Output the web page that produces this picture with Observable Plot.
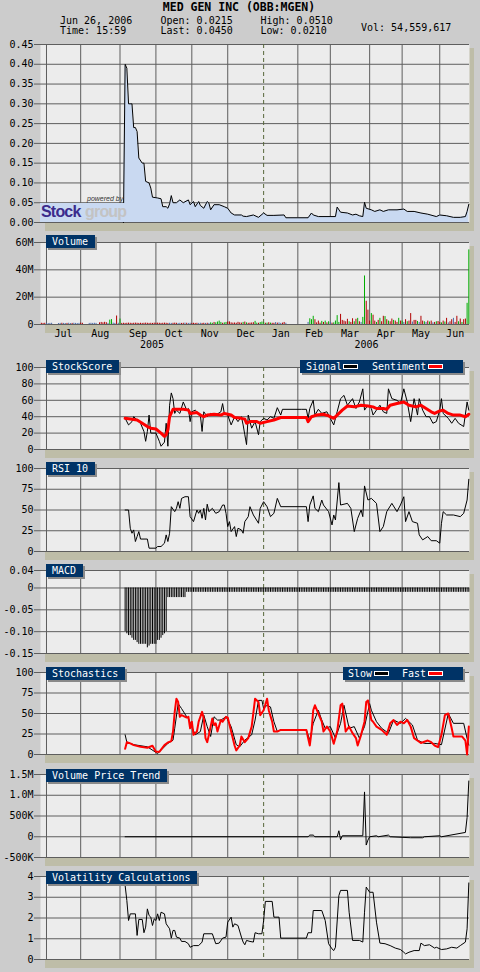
<!DOCTYPE html>
<html><head><meta charset="utf-8">
<script src="https://cdn.jsdelivr.net/npm/d3@7"></script>
<script src="https://cdn.jsdelivr.net/npm/@observablehq/plot@0.6"></script>
<style>
body{margin:0;background:#cccccc;}
#root{position:relative;width:480px;height:972px;overflow:hidden;font-family:"DejaVu Sans Mono",monospace;}
.shadow{position:absolute;background:#bebda8;}
.lg{position:absolute;background:#003366;color:#fff;font-size:10px;line-height:13px;height:13px;padding:0 7px 0 6px;box-shadow:2px 2px 0 #8a8a8a;white-space:nowrap;font-family:"DejaVu Sans Mono",monospace;}
.sw{position:absolute;top:4px;width:13px;height:3px;border:1px solid #fff;}
svg{position:absolute;left:0;}
</style></head>
<body><div id="root"></div>
<script>
// ---------- header values ----------
const title = "MED GEN INC (OBB:MGEN)";
const headerRow1 = ["Jun 26, 2006", "Open: 0.0215", "High: 0.0510"];
const headerRow2 = ["Time: 15:59", "Last: 0.0450", "Low: 0.0210"];
const headerVol = "Vol: 54,559,617";

// ---------- time axis (trading-day index, 0 = Jul 1 2005) ----------
const monthLabels = ["Jul","Aug","Sep","Oct","Nov","Dec","Jan","Feb","Mar","Apr","May","Jun"];
const tradingDaysPerMonth = [20,23,21,21,21,21,20,19,23,19,22,18];
const yearLabels = ["2005","2006"];
const xDomain = [-3.5, 247.4];

// ---------- price [day, value] ----------
const price = [[45,0.0],[46,0.40],[47,0.39],[48,0.30],[50,0.30],[51,0.24],[52,0.24],[53,0.23],[54,0.163],[56,0.15],[57,0.15],[58,0.104],[60,0.10],[61,0.087],[62,0.064],[65,0.062],[67,0.06],[68,0.04],[70,0.04],[71,0.036],[72,0.047],[73,0.068],[74,0.05],[76,0.05],[78,0.057],[80,0.05],[83,0.057],[84,0.045],[86,0.053],[87,0.04],[89,0.053],[90,0.043],[92,0.036],[94,0.053],[95,0.049],[96,0.032],[98,0.045],[101,0.045],[104,0.04],[106,0.036],[108,0.024],[110,0.019],[114,0.019],[115,0.016],[117,0.015],[121,0.019],[124,0.013],[127,0.024],[129,0.018],[133,0.018],[139,0.019],[140,0.012],[153,0.012],[155,0.024],[156,0.019],[159,0.015],[169,0.015],[170,0.039],[172,0.026],[176,0.024],[179,0.019],[181,0.021],[183,0.017],[185,0.015],[186,0.051],[187,0.036],[190,0.032],[192,0.028],[195,0.032],[197,0.028],[200,0.032],[205,0.032],[209,0.034],[211,0.028],[215,0.028],[219,0.024],[223,0.021],[228,0.015],[230,0.019],[234,0.017],[238,0.013],[242,0.013],[245,0.015],[246,0.028],[247,0.046]];
const priceTicks = [0,0.05,0.10,0.15,0.20,0.25,0.30,0.35,0.40,0.45];

// ---------- volume (millions), one per trading day from day -3 ----------
const volumeFirstDay = -3;
const volumeM = [].concat(
  [0.9,0.8,0.9],
  [0.8,0.7,0.8,0.9,0,0,0,0.7,0.8,0.9,0.8,0.7,0.8,0.9,0.7,0.8,0.9,0.8,0.7,0.8],
  [1.0,0.9,0,0,0,0.8,0.9,0.8,0.9,0.8,0,1.2,1.5,1.2,1.6,1.3,0.8,3.2,3.6,1.0,0.8,6.2,0.9],
  [4.0,0.8,0.9,0.8,0.9,1.0,0.9,0.8,0.9,1.0,0.9,0.8,0.9,0.8,0.9,1.0,0.9,0.8,0.9,0.8,1.0],
  [0.9,1.0,0.9,0.8,0.9,1.0,0.9,0.8,0.9,0.8,0.9,1.0,0.9,0.8,0.9,0.8,0.9,1.0,0.9,0.8,0.9],
  [0.8,0.9,0.8,0.9,0.8,0.9,0.8,0.9,0.8,0.9,0.8,1.2,0.9,1.5,1.2,1.8,2.5,1.5,0.9,1.2,1.5],
  [1.8,1.9,1.2,1.0,1.1,0.9,1.6,1.2,1.0,1.5,1.8,1.2,0.9,1.0,1.1,1.3,2.3,1.0,0.9,1.4,1.8],
  [1.2,0.9,1.0,1.3,1.0,0.9,0.9,1.4,1.0,1.2,0.8,1.0,1.5,0.9,0,0,0,0,0,0],
  [0,0,0,0,0,0,1.5,4.2,3.5,6.0,3.5,1.2,2.5,1.0,2.3,1.5,2.5,1.2,2.0],
  [1.5,1.0,1.2,2.5,6.5,1.5,7.4,3.0,2.5,2.0,3.8,2.0,1.5,4.2,2.0,3.8,4.5,2.0,1.5,5.2,35.5,17.0,10.5],
  [2.5,8.0,6.8,2.5,1.5,3.0,4.5,2.0,6.0,5.8,3.5,2.5,2.0,4.0,3.0,2.5,1.5,4.5,2.5],
  [2.5,1.5,3.5,2.0,2.5,8.0,1.8,3.0,3.0,2.2,1.5,6.0,2.5,2.0,1.5,2.5,1.8,2.5,1.2,1.5,2.0,2.2],
  [1.5,1.2,2.5,1.8,4.5,1.2,2.0,3.5,4.5,1.5,6.0,2.0,4.0,1.5,3.5,4.0,15.5,54.56]
);
// g = up, r = down, b = unchanged
const volumeDir = "rrr" + "bbbbbbbbbrbbrbbrbbbb" + "rrrrrbbbbbbrrrrrbggbbrb" + "grrrrrrrrrrrrrrrrrrrr" +
  "rrrrrrrrbbrrrbbrrbrbb" + "rrrrbbrrbrbggrggggrgg" + "rrrrrrrrrgrgrrrrggrgg" + "grgrgrrbrbbrrbbbbbbb" +
  "bbbbbbbgggrrrrgrgrg" + "brggggrrrrrgrrgrgrbggrr" + "rgrrgrgrrgrgrrgrrgr" + "gbrgrrbrrgbrrgbrgrbrgr" + "rgrgrbrrbrrgrgrrgg";
const volumeTicks = [0,20,40,60];

// ---------- StockScore ----------
const sentiment = [[46,38],[53,36],[59,28],[61,26],[64,25],[67,20],[69,16],[70,18],[71,24],[72,40],[74,49],[76,49],[80,49],[83,48],[84,44],[88,45],[90,42],[92,40],[94,42],[98,43],[102,42],[104,44],[108,42],[110,39],[114,38],[116,37],[117,32],[119,34],[123,34],[125,32],[129,34],[133,36],[137,39],[141,39],[149,39],[152,39],[153,34],[155,40],[158,42],[162,43],[165,41],[168,38],[170,42],[173,48],[176,53],[180,52],[184,54],[188,53],[191,52],[193,50],[197,50],[199,49],[201,54],[205,56],[209,58],[212,54],[216,52],[219,54],[222,50],[225,46],[227,44],[230,47],[232,48],[235,44],[238,42],[242,42],[245,40],[247,43]];
const signal = [[46,38],[48,30],[50,34],[51,40],[53,36],[55,32],[57,22],[58,10],[59,22],[60,42],[61,20],[64,20],[66,10],[67,4],[69,9],[70,32],[71,4],[72,54],[73,69],[74,62],[75,44],[76,48],[78,44],[80,58],[82,48],[83,50],[84,34],[85,46],[87,48],[90,42],[91,22],[92,46],[94,40],[96,44],[99,42],[102,46],[103,56],[104,44],[106,42],[108,30],[110,40],[112,34],[114,40],[115,30],[116,18],[117,6],[118,42],[120,26],[122,34],[124,18],[125,34],[127,38],[129,36],[131,40],[133,38],[135,51],[137,42],[138,49],[149,49],[152,49],[153,38],[154,50],[156,60],[157,42],[159,49],[161,44],[164,46],[166,38],[168,30],[170,46],[172,62],[174,66],[176,54],[179,62],[181,50],[183,58],[185,74],[186,48],[188,54],[190,50],[191,42],[193,48],[195,54],[197,46],[199,44],[200,74],[202,62],[205,60],[207,56],[209,74],[211,58],[213,34],[215,62],[217,42],[218,62],[220,48],[222,40],[224,40],[226,32],[228,34],[230,48],[231,62],[232,44],[235,38],[237,32],[239,38],[241,32],[244,28],[246,58],[247,48]];
const scoreTicks = [0,20,40,60,80,100];

// ---------- RSI 10 ----------
const rsi = [[46,50],[48,50],[49,28],[50,22],[51,26],[52,12],[53,18],[54,24],[55,15],[59,15],[60,4],[64,4],[65,6],[67,6],[69,10],[70,20],[71,12],[72,22],[73,54],[75,48],[76,52],[77,60],[78,52],[79,64],[81,66],[83,66],[84,42],[86,36],[88,50],[89,46],[90,50],[91,40],[92,52],[93,38],[94,57],[95,48],[97,52],[99,46],[101,48],[103,56],[104,56],[105,46],[106,30],[107,36],[108,24],[110,30],[111,18],[112,28],[114,26],[115,22],[116,36],[118,42],[119,54],[121,44],[124,34],[125,52],[127,60],[129,54],[131,42],[133,46],[135,64],[137,54],[152,54],[153,36],[154,56],[156,67],[157,52],[159,48],[161,62],[162,56],[165,48],[167,32],[168,44],[169,38],[171,83],[172,56],[176,58],[178,52],[180,24],[182,40],[184,50],[185,42],[186,79],[188,62],[190,64],[193,58],[195,24],[197,30],[199,48],[202,58],[205,48],[207,56],[209,66],[210,36],[212,48],[214,36],[217,34],[218,20],[220,14],[223,18],[225,13],[228,13],[230,10],[231,34],[232,48],[234,44],[238,44],[242,42],[244,46],[246,62],[247,87]];
const rsiTicks = [0,25,50,75,100];

// ---------- MACD histogram, one per day from day 46 ----------
const macdFirstDay = 46;
const macd = [
 -0.100,-0.105,-0.109,-0.109,-0.115,-0.120,-0.120,-0.125,-0.129,-0.129,-0.129,-0.129,-0.129,-0.137,-0.133,-0.129,-0.129,-0.129,-0.129,-0.120,-0.120,-0.115,-0.109,-0.105,-0.100,
 -0.022,-0.022,-0.022,-0.022,-0.022,-0.022,-0.022,-0.022,-0.022,-0.022,-0.022,
 -0.01,-0.01,-0.01,-0.01,-0.01,-0.01,-0.01,-0.01,-0.01,-0.01,-0.01,-0.01,-0.01,-0.01,-0.01,-0.01,-0.01,-0.01,-0.01,-0.01,
 -0.01,-0.01,-0.01,-0.01,-0.01,-0.01,-0.01,-0.01,-0.01,-0.01,-0.01,-0.01,-0.01,-0.01,-0.01,-0.01,-0.01,-0.01,-0.01,-0.01,
 -0.01,-0.01,-0.01,-0.01,-0.01,-0.01,-0.01,-0.01,-0.01,-0.01,-0.01,-0.01,-0.01,-0.01,-0.01,-0.01,-0.01,-0.01,-0.01,-0.01,
 -0.01,-0.01,-0.01,-0.01,-0.01,-0.01,-0.01,-0.01,-0.01,-0.01,-0.01,-0.01,-0.01,-0.01,-0.01,-0.01,-0.01,-0.01,-0.01,-0.01,
 -0.01,-0.01,-0.01,-0.01,-0.01,-0.01,-0.01,-0.01,-0.01,-0.01,-0.01,-0.01,-0.01,-0.01,-0.01,-0.01,-0.01,-0.01,-0.01,-0.01,
 -0.01,-0.01,-0.01,-0.01,-0.01,-0.01,-0.01,-0.01,-0.01,-0.01,-0.01,-0.01,-0.01,-0.01,-0.01,-0.01,-0.01,-0.01,-0.01,-0.01,
 -0.01,-0.01,-0.01,-0.01,-0.01,-0.01,-0.01,-0.01,-0.01,-0.01,-0.01,-0.01,-0.01,-0.01,-0.01,-0.01,-0.01,-0.01,-0.01,-0.01,
 -0.01,-0.01,-0.01,-0.01,-0.01,-0.01,-0.01,-0.01,-0.01,-0.01,-0.01,-0.01,-0.01,-0.01,-0.01,-0.01,-0.01,-0.01,-0.01,-0.01,
 -0.01,-0.01,-0.01,-0.01,-0.01,-0.01
];
const macdTicks = [-0.15,-0.10,-0.05,0,0.04];

// ---------- Stochastics ----------
const stochFast = [[46,7],[47,15],[49,13.5],[51,11.4],[55,9.4],[59,8.2],[62,10.6],[64,3.3],[66,3.3],[69,11.4],[71,14.7],[73,16.3],[74,28],[75,52],[76,68],[77,64],[78,46],[79,48],[82,45],[83,46],[84,32],[85,40],[86,24],[88,28],[89,40],[91,52],[92,44],[93,20],[94,15],[95,24],[97,44],[98,36],[99,38],[100,28],[102,42],[103,40],[105,46],[106,45],[108,28],[110,11],[111,5],[113,11],[114,22],[116,15],[118,20],[120,34],[122,68],[124,64],[125,48],[127,54],[129,68],[130,54],[132,40],[133,28],[135,28],[137,30],[152,30],[153,20],[154,11],[155,28],[156,54],[157,60],[159,50],[161,40],[162,28],[164,34],[166,28],[168,13],[170,28],[172,60],[173,62],[175,28],[177,34],[179,26],[181,20],[182,11],[184,24],[186,40],[187,64],[188,66],[190,42],[191,40],[193,34],[196,30],[199,24],[201,38],[203,42],[205,36],[207,40],[209,38],[211,42],[213,34],[215,20],[219,14],[223,17],[225,15],[227,11],[229,9],[231,24],[233,48],[235,50],[237,32],[238,22],[243,22],[245,17],[246,0],[247,34]];
const stochSlow = [[46,24],[47,15],[51,12],[59,9.4],[65,1.2],[71,13.5],[74,17.5],[75,32],[77,62],[79,56],[82,46],[83,44],[85,34],[87,24],[90,28],[92,48],[94,34],[96,22],[98,46],[100,42],[102,42],[105,46],[108,34],[111,12],[113,9.4],[116,17.5],[120,24],[122,42],[124,66],[126,66],[127,56],[129,60],[131,58],[133,40],[135,28],[137,30],[152,30],[154,17.5],[156,38],[159,54],[161,42],[163,32],[166,34],[169,20],[172,38],[174,60],[177,32],[180,34],[183,20],[186,34],[189,62],[190,54],[193,40],[196,32],[200,26],[203,42],[207,38],[210,44],[212,40],[214,36],[217,17.5],[221,13.5],[227,13.5],[231,12],[235,50],[238,38],[244,38],[246,19.6],[247,11.4]];
const stochTicks = [0,25,50,75,100];

// ---------- Volume Price Trend ----------
const vpt = [[46,0],[153,0],[154,40000],[156,40000],[157,0],[170,0],[171,144000],[172,-72000],[173,24000],[185,24000],[186,1080000],[187,-200000],[188,-80000],[189,0],[193,24000],[194,0],[200,40000],[201,0],[213,-24000],[220,-24000],[221,0],[230,24000],[231,0],[245,104000],[246,464000],[247,1344000]];
const vptTicks = [-500000,0,500000,1000000,1500000];

// ---------- Volatility ----------
const volatility = [[46,3.57],[47,2.84],[48,1.88],[49,2.2],[52,2.2],[53,1.16],[54,1.93],[56,1.93],[57,1.29],[58,1.56],[59,2.44],[60,2.12],[61,2.04],[62,1.64],[63,1.96],[64,1.88],[65,2.2],[66,1.88],[67,2.28],[69,2.2],[70,1.72],[72,1.48],[73,1.03],[74,1.4],[75,1.4],[76,1.08],[78,1.03],[79,0.87],[81,0.87],[83,0.76],[84,0.59],[86,0.67],[89,0.67],[91,0.84],[92,1.24],[97,1.24],[99,0.76],[101,0.79],[103,1.03],[105,1.08],[106,1.8],[108,2.04],[109,1.56],[110,1.72],[112,1.64],[114,1.08],[115,0.84],[116,0.71],[117,0.92],[119,0.87],[121,0.84],[122,1.29],[124,1.24],[126,1.24],[127,1.88],[128,2.8],[132,2.8],[133,2.04],[136,2.04],[137,1.03],[152,1.03],[153,1.29],[155,1.29],[156,2.36],[161,2.36],[163,1.88],[165,0.76],[167,0.51],[168,0.43],[169,0.59],[171,3.08],[172,3.33],[176,3.33],[177,2.28],[179,0.92],[183,0.92],[185,0.84],[186,2.28],[187,3.49],[189,3.24],[191,3.24],[193,1.8],[195,0.79],[198,0.76],[201,0.67],[204,0.55],[207,0.48],[209,0.35],[210,0.27],[212,0.35],[215,0.43],[218,0.43],[219,0.79],[221,0.67],[224,0.71],[227,0.55],[228,0.59],[231,0.48],[234,0.51],[237,0.59],[240,0.55],[242,0.67],[245,0.84],[246,1.48],[247,3.69]];
const volatilityTicks = [0,1,2,3,4];

// ================= drawing =================
const root = document.getElementById("root");
const monthStart = [0, ...d3.cumsum(tradingDaysPerMonth)].slice(0, 12);
const janIndex = monthLabels.indexOf("Jan");
const newYearDay = monthStart[janIndex];
const gridDays = monthStart.filter((d, i) => i !== janIndex);
const monthMid = monthStart.map((s, i) => ({label: monthLabels[i], day: s + tradingDaysPerMonth[i] / 2}));
const yearMid = [
  {label: yearLabels[0], day: (xDomain[0] + newYearDay) / 2},
  {label: yearLabels[1], day: (newYearDay + xDomain[1]) / 2}
];
const X = d => d[0], Y = d => d[1];

function panel({top, bottom, domain, ticks, format, marks, mb = 6}) {
  const mt = 6;
  const h = bottom - top + mt + mb;
  const sh = document.createElement("div");
  sh.className = "shadow";
  sh.style.left = "45px"; sh.style.top = (top + 4) + "px";
  sh.style.width = "429px"; sh.style.height = (bottom - top + 5) + "px";
  root.appendChild(sh);
  const svg = Plot.plot({
    width: 480, height: h,
    marginLeft: 40, marginRight: 11, marginTop: mt, marginBottom: mb,
    x: {domain: xDomain, axis: null},
    y: {domain: domain, axis: null},
    style: {background: "transparent", fontFamily: "DejaVu Sans Mono, monospace", fontSize: "10px", color: "black", overflow: "visible"},
    marks: [
      Plot.frame({fill: "#ececec", stroke: "none"}),
      Plot.ruleX(gridDays, {stroke: "#5e5e5e"}),
      Plot.ruleY(ticks, {stroke: "#5e5e5e"}),
      Plot.ruleX([newYearDay], {stroke: "#56663a", strokeDasharray: "4,3"}),
      ...marks,
      Plot.axisY(ticks, {tickSize: 6, tickPadding: 1, tickFormat: format, label: null, stroke: "#5e5e5e", fill: "black", fontSize: 10})
    ]
  });
  svg.style.top = (top - mt) + "px";
  root.appendChild(svg);
}

function legend(left, top, text) {
  const d = document.createElement("div");
  d.className = "lg"; d.style.left = left + "px"; d.style.top = top + "px";
  d.textContent = text;
  root.appendChild(d);
}
function legend2(left, top, width, items) {
  const d = document.createElement("div");
  d.className = "lg"; d.style.left = left + "px"; d.style.top = top + "px";
  d.style.width = width + "px"; d.style.padding = "0";
  items.forEach(([label, color, tx, sx]) => {
    const t = document.createElement("span");
    t.textContent = label; t.style.position = "absolute"; t.style.left = tx + "px";
    d.appendChild(t);
    const s = document.createElement("span");
    s.className = "sw"; s.style.left = sx + "px"; s.style.background = color;
    d.appendChild(s);
  });
  root.appendChild(d);
}

// header
const hdr = d3.select(root).append("svg").attr("width", 480).attr("height", 38).style("top", "0px")
  .attr("font-family", "DejaVu Sans Mono, monospace");
hdr.append("text").attr("x", 239).attr("y", 10.5).attr("text-anchor", "middle").attr("font-weight", "bold").attr("font-size", 11.5).text(title);
const cols = [60, 160.5, 260.5];
headerRow1.forEach((t, i) => hdr.append("text").attr("x", cols[i]).attr("y", 24.3).attr("font-size", 10).text(t));
headerRow2.forEach((t, i) => hdr.append("text").attr("x", cols[i]).attr("y", 34.3).attr("font-size", 10).text(t));
hdr.append("text").attr("x", 361).attr("y", 31.3).attr("font-size", 10).text(headerVol);

// 1. price
panel({top: 44, bottom: 222, domain: [0, 0.45], ticks: priceTicks, format: d => d.toFixed(2), marks: [
  Plot.areaY(price, {x: X, y: Y, fill: "#c9d9f1"}),
  Plot.line(price, {x: X, y: Y, stroke: "black", strokeWidth: 1})
]});
// logo
const logo = d3.select(root).append("svg").attr("width", 480).attr("height", 230).style("top", "0px");
logo.append("rect").attr("x", 40).attr("y", 203).attr("width", 92).attr("height", 19).attr("fill", "#c9d9f1");
logo.append("text").attr("x", 41).attr("y", 217).attr("font-family", "Liberation Sans, Arial, sans-serif").attr("font-weight", "bold").attr("font-size", 16).attr("letter-spacing", -0.8).attr("fill", "#3b2b8c").text("Stock");
logo.append("text").attr("x", 85).attr("y", 217).attr("font-family", "Liberation Sans, Arial, sans-serif").attr("font-weight", "bold").attr("font-size", 16).attr("letter-spacing", -0.8).attr("fill", "#c3c3c3").text("group");
logo.append("text").attr("x", 87).attr("y", 201).attr("font-family", "Liberation Sans, Arial, sans-serif").attr("font-style", "italic").attr("font-size", 7).attr("fill", "#333").text("powered by");

// 2. volume
const volTable = volumeM.map((v, i) => ({day: volumeFirstDay + i, v, dir: volumeDir[i]})).filter(d => d.v > 0);
const volColor = {g: "#00ad00", r: "#b00000", b: "#4a6aa8"};
panel({top: 242, bottom: 324, mb: 30, domain: [0, 60], ticks: volumeTicks, format: d => d === 0 ? "0" : d + "M", marks: [
  ...["b", "r", "g"].map(k => Plot.ruleX(volTable.filter(d => d.dir === k), {x: "day", y1: 0, y2: "v", stroke: volColor[k], strokeWidth: 1})),
  Plot.text(monthMid, {x: "day", text: "label", frameAnchor: "bottom", dy: 12.5, fill: "black", fontSize: 10}),
  Plot.text(yearMid, {x: "day", text: "label", frameAnchor: "bottom", dy: 23, fill: "black", fontSize: 10})
]});
legend(46, 235, "Volume");

// 3. StockScore
panel({top: 367, bottom: 449, domain: [0, 100], ticks: scoreTicks, format: d => String(d), marks: [
  Plot.line(signal, {x: X, y: Y, stroke: "black", strokeWidth: 1}),
  Plot.line(sentiment, {x: X, y: Y, stroke: "#ff0000", strokeWidth: 3})
]});
legend(46, 360, "StockScore");
legend2(300, 360, 163, [["Signal", "#000", 6, 43], ["Sentiment", "#ff0000", 72, 128]]);

// 4. RSI
panel({top: 468, bottom: 551, domain: [0, 100], ticks: rsiTicks, format: d => String(d), marks: [
  Plot.line(rsi, {x: X, y: Y, stroke: "black", strokeWidth: 1})
]});
legend(46, 462, "RSI 10");

// 5. MACD
const macdTable = macd.map((v, i) => ({day: macdFirstDay + i, v}));
panel({top: 570, bottom: 653, domain: [-0.15, 0.04], ticks: macdTicks, format: d => d === 0 ? "0" : d.toFixed(2), marks: [
  Plot.ruleX(macdTable, {x: "day", y1: 0, y2: "v", stroke: "black", strokeWidth: 1})
]});
legend(46, 564, "MACD");

// 6. Stochastics
panel({top: 672, bottom: 754, domain: [0, 100], ticks: stochTicks, format: d => String(d), marks: [
  Plot.line(stochSlow, {x: X, y: Y, stroke: "black", strokeWidth: 1}),
  Plot.line(stochFast, {x: X, y: Y, stroke: "#ff0000", strokeWidth: 2})
]});
legend(46, 667, "Stochastics");
legend2(343, 667, 120, [["Slow", "#000", 5, 31], ["Fast", "#ff0000", 59, 85]]);

// 7. VPT
const vptFmt = d => d === 0 ? "0" : Math.abs(d) >= 1e6 ? (d / 1e6).toFixed(1) + "M" : (d < 0 ? "-" : "") + Math.abs(d / 1000) + "K";
panel({top: 774, bottom: 857, domain: [-500000, 1500000], ticks: vptTicks, format: vptFmt, marks: [
  Plot.line(vpt, {x: X, y: Y, stroke: "black", strokeWidth: 1})
]});
legend(46, 769, "Volume Price Trend");

// 8. Volatility
panel({top: 876, bottom: 959, domain: [0, 4], ticks: volatilityTicks, format: d => String(d), marks: [
  Plot.line(volatility, {x: X, y: Y, stroke: "black", strokeWidth: 1})
]});
legend(46, 871, "Volatility Calculations");
</script>
</body></html>
